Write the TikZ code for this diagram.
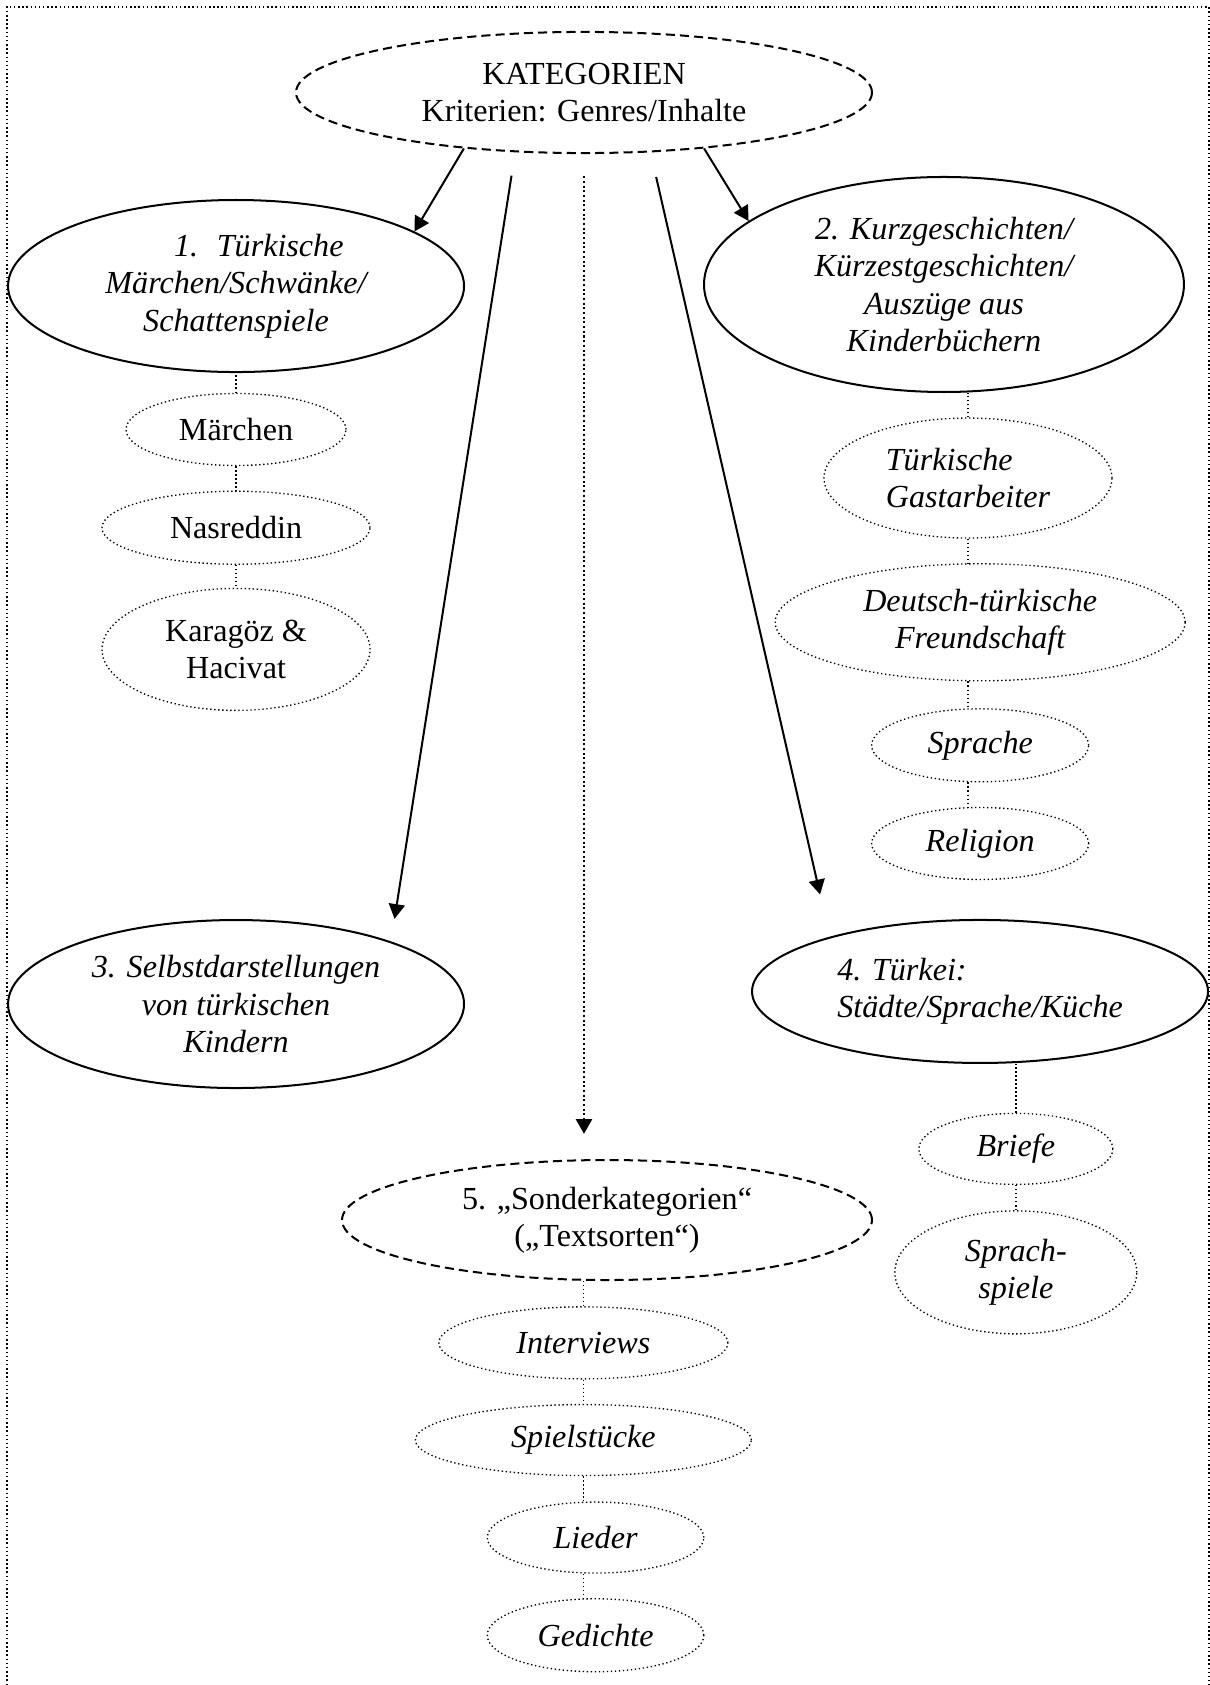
\documentclass[tikz,border=0pt]{standalone}
\usepackage{fontspec}
\setmainfont{Liberation Serif}
\usepackage{tikz}
\usetikzlibrary{shapes,arrows.meta,positioning}
\newcommand{\boxfont}{\fontsize{12}{14}\selectfont}
\tikzset{
  hub/.style={ellipse,draw,line width=0.75pt,dash pattern=on 3.4pt off 1.9pt,inner sep=0pt,align=center,font=\boxfont},
  genre/.style={ellipse,draw,line width=0.75pt,inner sep=0pt,align=center,font=\boxfont\itshape},
  sub/.style={ellipse,draw,densely dotted,line width=0.5pt,inner sep=0pt,align=center,font=\boxfont\itshape},
  upright/.style={font=\boxfont},
  link/.style={densely dotted,line width=0.5pt},
  arr/.style={-{Triangle[length=5.5pt,width=6pt]},line width=0.75pt},
  frame/.style={densely dotted,line width=0.55pt}
}
\begin{document}
\begin{tikzpicture}
    \useasboundingbox (0,0) rectangle (15.881,-22.116);
    \draw[frame] (0.09,-22.116) |- (15.868,-0.092) -- (15.868,-22.116);

    \node[hub,minimum width=7.56cm,minimum height=1.59cm] (kat) at (7.665,-1.214) {KATEGORIEN\\Kriterien: Genres/Inhalte};
    \node[genre,minimum width=5.985cm,minimum height=2.258cm] (cat1) at (3.098,-3.754) {\hspace*{17pt}1.\hspace{7pt}Türkische\\Märchen/Schwänke/\\Schattenspiele};
    \node[genre,minimum width=6.3cm,minimum height=2.822cm] (cat2) at (12.39,-3.734) {2. Kurzgeschichten/\\Kürzestgeschichten/\\Auszüge aus\\Kinderbüchern};
    \node[genre,minimum width=5.985cm,minimum height=2.205cm] (cat3) at (3.098,-13.178) {3. Selbstdarstellungen\\von türkischen\\Kindern};
    \node[genre,align=left,minimum width=5.985cm,minimum height=1.877cm] (cat4) at (12.863,-13.013) {4. Türkei:\\Städte/Sprache/Küche};
    \node[hub,minimum width=6.956cm,minimum height=1.575cm] (cat5) at (7.967,-16.013) {5. „Sonderkategorien“\\(„Textsorten“)};

    % Maerchen
    \node[sub,upright,minimum width=2.888cm,minimum height=0.945cm] (maerchen) [below=0.26cm of cat1] {Märchen};
    \node[sub,upright,minimum width=3.518cm,minimum height=0.958cm] (nasreddin) [below=0.32cm of maerchen] {Nasreddin};
    \node[sub,upright,minimum width=3.518cm,minimum height=1.601cm] (karagoez) [below=0.3cm of nasreddin] {Karagöz \&\\Hacivat};

    % Kurzgeschichten
    \node[sub,align=left,minimum width=3.78cm,minimum height=1.575cm] (gast) [below=0.32cm of cat2,xshift=0.315cm] {Türkische\\Gastarbeiter};
    \node[sub,minimum width=5.381cm,minimum height=1.536cm] (freund) [below=0.32cm of gast,xshift=0.16cm] {Deutsch-türkische\\Freundschaft};
    \node[sub,minimum width=2.848cm,minimum height=0.958cm] (sprache) [below=0.35cm of freund] {Sprache};
    \node[sub,minimum width=2.848cm,minimum height=0.945cm] (religion) [below=0.32cm of sprache] {Religion};

    % Tuerkei
    \node[sub,minimum width=2.546cm,minimum height=0.932cm] (briefe) [below=0.64cm of cat4,xshift=0.47cm] {Briefe};
    \node[sub,minimum width=3.176cm,minimum height=1.614cm] (sprachsp) [below=0.33cm of briefe] {Sprach-\\spiele};

    % Textsorten
    \node[sub,minimum width=3.793cm,minimum height=0.945cm] (interviews) [below=0.33cm of cat5,xshift=-0.31cm] {Interviews};
    \node[sub,minimum width=4.41cm,minimum height=0.932cm] (spiel) [below=0.32cm of interviews] {Spielstücke};
    \node[sub,minimum width=2.842cm,minimum height=0.932cm] (lieder) [below=0.33cm of spiel,xshift=0.16cm] {Lieder};
    \node[sub,minimum width=2.842cm,minimum height=0.958cm] (gedichte) [below=0.32cm of lieder] {Gedichte};

    \draw[arr] (kat.205) -- (cat1.17);
    \draw[arr] (kat.335) -- (cat2.162);
    \draw[arr,shorten <=0.31cm,shorten >=0.30cm] (kat.221) -- (cat3.22);
    \draw[arr,shorten <=0.33cm,shorten >=0.57cm] (kat.318) -- (cat4.160);
    \draw[arr,densely dotted,shorten <=0.29cm,shorten >=0.33cm] (kat.south) -- (kat.south |- cat5.north);

    \draw[link] (maerchen.north) -- (maerchen.north |- cat1.south);
    \draw[link] (maerchen) -- (nasreddin);
    \draw[link] (nasreddin) -- (karagoez);
    \draw[link] (gast.north) -- (gast.north |- cat2.south);
    \draw[link] (gast.south) -- (gast.south |- freund.north);
    \draw[link] (gast.south |- freund.south) -- (gast.south |- sprache.north);
    \draw[link] (gast.south |- sprache.south) -- (gast.south |- religion.north);
    \draw[link] (briefe.north) -- (briefe.north |- cat4.south);
    \draw[link] (briefe) -- (sprachsp);
    \draw[link] (interviews.north) -- (interviews.north |- cat5.south);
    \draw[link] (interviews) -- (spiel);
    \draw[link] (spiel.south) -- (spiel.south |- lieder.north);
    \draw[link] (spiel.south |- lieder.south) -- (spiel.south |- gedichte.north);
\end{tikzpicture}
\end{document}
